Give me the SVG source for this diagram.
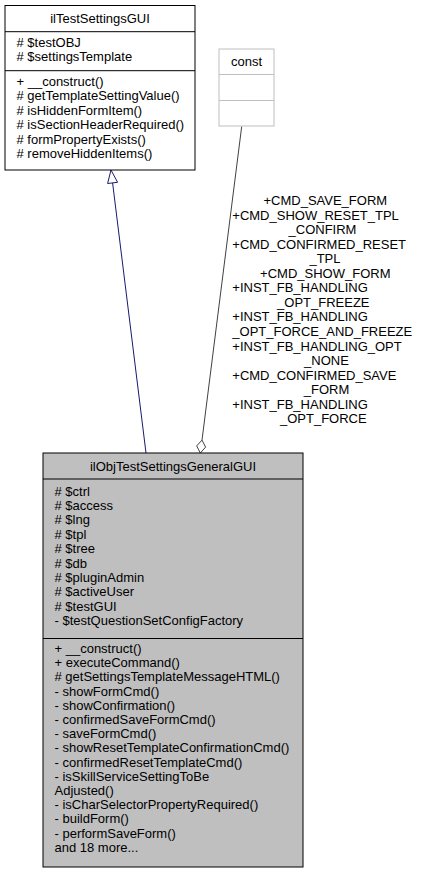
<svg xmlns="http://www.w3.org/2000/svg" width="423" height="873" viewBox="0 0 423 873">
<style>
text{font-family:"Liberation Sans",Arial,Helvetica,sans-serif;font-size:13px;fill:#000}
.c{text-anchor:middle}
.box{fill:#fff;stroke:#000;stroke-width:1}
.main{fill:#bfbfbf;stroke:#000;stroke-width:1}
.cst{fill:#fff;stroke:#bfbfbf;stroke-width:1}
.sep{stroke:#000;stroke-width:1}
.sepc{stroke:#bfbfbf;stroke-width:1}
.inh{stroke:#191970;stroke-width:1;fill:none}
.agg{stroke:#404040;stroke-width:1;fill:none}
</style>
<rect width="423" height="873" fill="#fff"/>
<g id="connectors">
  <line class="inh" x1="146" y1="453" x2="112.6" y2="182.9"/>
  <polygon class="inh" points="111,170 117.6,182.3 107.6,183.5" fill="#fff"/>
  <line class="agg" x1="241.7" y1="126.5" x2="202" y2="440.1"/>
  <polygon class="agg" points="202,440.1 205.6,447.1 200.3,453 196.7,445.9" fill="#fff"/>
  <g id="edge-labels">
    <text class="c" x="325.3" y="205">+CMD_SAVE_FORM</text>
    <text x="232.3" y="219.5">+CMD_SHOW_RESET_TPL</text>
    <text class="c" x="322.5" y="234.1">_CONFIRM</text>
    <text x="232.3" y="248.6">+CMD_CONFIRMED_RESET</text>
    <text class="c" x="325" y="263.2">_TPL</text>
    <text class="c" x="325.3" y="277.7">+CMD_SHOW_FORM</text>
    <text x="232.3" y="292.3">+INST_FB_HANDLING</text>
    <text class="c" x="323.3" y="306.8">_OPT_FREEZE</text>
    <text x="232.3" y="321.4">+INST_FB_HANDLING</text>
    <text x="232.3" y="335.9">_OPT_FORCE_AND_FREEZE</text>
    <text x="232.3" y="350.5">+INST_FB_HANDLING_OPT</text>
    <text class="c" x="326.5" y="365">_NONE</text>
    <text x="232.3" y="379.6">+CMD_CONFIRMED_SAVE</text>
    <text class="c" x="326.5" y="394.1">_FORM</text>
    <text x="232.3" y="408.7">+INST_FB_HANDLING</text>
    <text class="c" x="323.3" y="423.2">_OPT_FORCE</text>
  </g>
</g>
<g id="node-ilTestSettingsGUI">
  <rect class="box" x="5" y="5.5" width="190" height="164.5"/>
  <line class="sep" x1="5" y1="31.7" x2="195" y2="31.7"/>
  <line class="sep" x1="5" y1="70.7" x2="195" y2="70.7"/>
  <text class="c" x="100" y="22.5">ilTestSettingsGUI</text>
  <text x="16.5" y="46.5"># $testOBJ</text>
  <text x="16.5" y="61"># $settingsTemplate</text>
  <text x="16.5" y="86">+ __construct()</text>
  <text x="16.5" y="100.4"># getTemplateSettingValue()</text>
  <text x="16.5" y="114.8"># isHiddenFormItem()</text>
  <text x="16.5" y="129.2"># isSectionHeaderRequired()</text>
  <text x="16.5" y="143.6"># formPropertyExists()</text>
  <text x="16.5" y="158"># removeHiddenItems()</text>
</g>
<g id="node-const">
  <rect class="cst" x="219" y="49" width="55" height="77"/>
  <line class="sepc" x1="219" y1="74.5" x2="274" y2="74.5"/>
  <line class="sepc" x1="219" y1="100.5" x2="274" y2="100.5"/>
  <text class="c" x="246.5" y="66">const</text>
</g>
<g id="node-ilObjTestSettingsGeneralGUI">
  <rect class="main" x="43" y="453" width="260" height="414"/>
  <line class="sep" x1="43" y1="479" x2="303" y2="479"/>
  <line class="sep" x1="43" y1="638.5" x2="303" y2="638.5"/>
  <text class="c" x="173" y="470.5">ilObjTestSettingsGeneralGUI</text>
  <text x="54.5" y="495.5"># $ctrl</text>
  <text x="54.5" y="509.9"># $access</text>
  <text x="54.5" y="524.3"># $lng</text>
  <text x="54.5" y="538.7"># $tpl</text>
  <text x="54.5" y="553.1"># $tree</text>
  <text x="54.5" y="567.5"># $db</text>
  <text x="54.5" y="581.9"># $pluginAdmin</text>
  <text x="54.5" y="596.3"># $activeUser</text>
  <text x="54.5" y="610.7"># $testGUI</text>
  <text x="54.5" y="625.1">- $testQuestionSetConfigFactory</text>
  <text x="54.5" y="653">+ __construct()</text>
  <text x="54.5" y="667.2">+ executeCommand()</text>
  <text x="54.5" y="681.4"># getSettingsTemplateMessageHTML()</text>
  <text x="54.5" y="695.6">- showFormCmd()</text>
  <text x="54.5" y="709.8">- showConfirmation()</text>
  <text x="54.5" y="724">- confirmedSaveFormCmd()</text>
  <text x="54.5" y="738.2">- saveFormCmd()</text>
  <text x="54.5" y="752.4">- showResetTemplateConfirmationCmd()</text>
  <text x="54.5" y="766.6">- confirmedResetTemplateCmd()</text>
  <text x="54.5" y="780.8">- isSkillServiceSettingToBe</text>
  <text x="54.5" y="795">Adjusted()</text>
  <text x="54.5" y="809.2">- isCharSelectorPropertyRequired()</text>
  <text x="54.5" y="823.4">- buildForm()</text>
  <text x="54.5" y="837.6">- performSaveForm()</text>
  <text x="54.5" y="851.8">and 18 more...</text>
</g>
</svg>
